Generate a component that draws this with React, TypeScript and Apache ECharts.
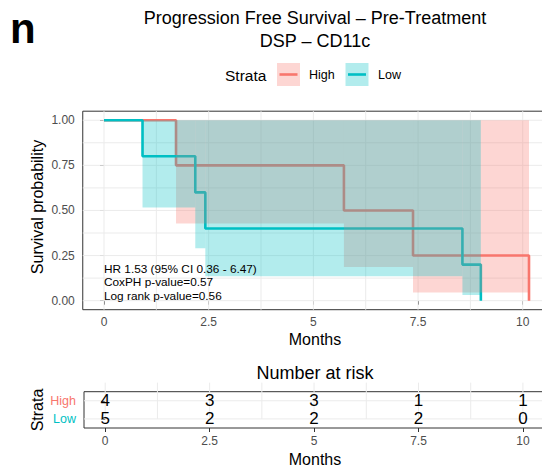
import React, { useEffect, useRef } from "react";
import * as echarts from "echarts";

const RED = "#F8766D";
const TEAL = "#00BFC4";
const FONT = "Liberation Sans, Arial, Helvetica, sans-serif";

const strata = ["High", "Low"];
// Kaplan-Meier step points
const highTimes = [0, 1.72, 5.73, 7.38, 10.15];
const highSurv = [1, 0.75, 0.5, 0.25, 0];
const lowTimes = [0, 0.92, 2.18, 2.42, 8.56, 9.0];
const lowSurv = [1, 0.8, 0.6, 0.4, 0.2, 0];
// Confidence interval steps
const highCiStart = [1.72, 5.73, 7.38];
const highCiEnd = [5.73, 7.38, 10.15];
const highCiLower = [0.428, 0.186, 0.045];
const highCiUpper = [1, 1, 1];
const lowCiStart = [0.92, 2.18, 2.42, 8.56];
const lowCiEnd = [2.18, 2.42, 8.56, 9.0];
const lowCiLower = [0.516, 0.29, 0.136, 0.032];
const lowCiUpper = [1, 1, 1, 1];

const xTicks = [0, 2.5, 5, 7.5, 10];
const xMinor = [1.25, 3.75, 6.25, 8.75];
const yTicks = [0, 0.25, 0.5, 0.75, 1];
const yMinor = [0.125, 0.375, 0.625, 0.875];

const riskTimes = [0, 2.5, 5, 7.5, 10];
const riskHigh = [4, 3, 3, 1, 1];
const riskLow = [5, 2, 2, 2, 0];

const annotation = ["HR 1.53 (95% CI 0.36 - 6.47)", "CoxPH p-value=0.57", "Log rank p-value=0.56"];

const XMIN = -0.5075;
const XMAX = 10.6575;
const YMIN = -0.05;
const YMAX = 1.05;

export default function App() {
  const ref = useRef<HTMLDivElement>(null);
  useEffect(() => {
    if (!ref.current) return;
    const chart = echarts.init(ref.current, undefined, { renderer: "svg" });

    const ribbon = (starts: number[], ends: number[], lo: number[], up: number[]) =>
      starts.map((s, i) => [s, ends[i], lo[i], up[i]]);

    const ribbonSeries = (name: string, data: number[][], color: string, z: number) => ({
      type: "custom",
      name,
      xAxisIndex: 0,
      yAxisIndex: 0,
      z,
      silent: true,
      data,
      encode: { x: [0, 1], y: [2, 3] },
      renderItem: (params: any, api: any) => {
        const p1 = api.coord([api.value(0), api.value(3)]);
        const p2 = api.coord([api.value(1), api.value(2)]);
        return {
          type: "rect",
          shape: { x: p1[0], y: p1[1], width: p2[0] - p1[0], height: p2[1] - p1[1] },
          style: { fill: color, opacity: 0.3 },
        };
      },
    });

    const gridLineSeries = (xi: number, yi: number, vx: number[], vy: number[], ymin: number, ymax: number, xmin: number, xmax: number) => ({
      type: "custom",
      xAxisIndex: xi,
      yAxisIndex: yi,
      z: 1,
      silent: true,
      data: [...vx.map((v) => [v, 0]), ...vy.map((v) => [v, 1])],
      renderItem: (params: any, api: any) => {
        const v = api.value(0);
        const o = api.value(1);
        let a, b;
        if (o === 0) {
          a = api.coord([v, ymin]);
          b = api.coord([v, ymax]);
        } else {
          a = api.coord([xmin, v]);
          b = api.coord([xmax, v]);
        }
        return {
          type: "line",
          shape: { x1: a[0], y1: a[1], x2: b[0], y2: b[1] },
          style: { stroke: "#EBEBEB", lineWidth: 1 },
        };
      },
    });

    const riskData: number[][] = [];
    riskTimes.forEach((t, i) => {
      riskData.push([t, 1, riskHigh[i]]);
      riskData.push([t, 0, riskLow[i]]);
    });

    const tickStyle = { show: true, length: 4, lineStyle: { color: "#333333", width: 1 } };

    chart.setOption({
      animation: false,
      backgroundColor: "#ffffff",
      textStyle: { fontFamily: FONT },
      grid: [
        { left: 82.75, top: 111.2, width: 467.5, height: 198.5, show: true, borderColor: "#333333", borderWidth: 1, backgroundColor: "#ffffff" },
        { left: 84, top: 391.7, width: 466.4, height: 36.3, show: true, borderColor: "#333333", borderWidth: 1, backgroundColor: "#ffffff" },
      ],
      xAxis: [
        {
          type: "value", gridIndex: 0, min: XMIN, max: XMAX,
          axisLine: { show: false }, splitLine: { show: false },
          axisTick: { ...tickStyle, customValues: xTicks },
          axisLabel: { customValues: xTicks, color: "#4D4D4D", fontSize: 12, margin: 6, fontFamily: FONT, formatter: (v: number) => String(v) },
        },
        {
          type: "value", gridIndex: 1, min: XMIN, max: XMAX,
          axisLine: { show: false }, splitLine: { show: false },
          axisTick: { ...tickStyle, customValues: riskTimes },
          axisLabel: { customValues: riskTimes, color: "#4D4D4D", fontSize: 12, margin: 7, fontFamily: FONT, formatter: (v: number) => String(v) },
        },
      ],
      yAxis: [
        {
          type: "value", gridIndex: 0, min: YMIN, max: YMAX,
          axisLine: { show: false }, splitLine: { show: false },
          axisTick: { ...tickStyle, customValues: yTicks },
          axisLabel: { customValues: yTicks, color: "#4D4D4D", fontSize: 12, margin: 8, fontFamily: FONT, formatter: (v: number) => v.toFixed(2) },
        },
        {
          type: "category", gridIndex: 1, data: ["Low", "High"],
          axisLine: { show: false }, splitLine: { show: false },
          axisTick: { ...tickStyle, alignWithLabel: true },
          axisLabel: {
            fontSize: 12.5, margin: 8, fontFamily: FONT,
            color: (v: string) => (v === "High" ? RED : TEAL),
          },
        },
      ],
      series: [
        gridLineSeries(0, 0, [...xTicks, ...xMinor], [...yTicks, ...yMinor], YMIN, YMAX, XMIN, XMAX),
        gridLineSeries(1, 1, [...riskTimes, ...xMinor], [], -0.5, 1.5, XMIN, XMAX),
        {
          type: "custom", xAxisIndex: 1, yAxisIndex: 1, z: 1, silent: true,
          data: [[XMIN, 0], [XMIN, 1]],
          renderItem: (params: any, api: any) => {
            const a = api.coord([XMIN, api.value(1)]);
            const b = api.coord([XMAX, api.value(1)]);
            return { type: "line", shape: { x1: a[0], y1: a[1], x2: b[0], y2: b[1] }, style: { stroke: "#EBEBEB", lineWidth: 1 } };
          },
        },
        {
          type: "line", name: strata[0], xAxisIndex: 0, yAxisIndex: 0, z: 2, step: "end",
          showSymbol: false, symbol: "none", silent: true,
          data: highTimes.map((t, i) => [t, highSurv[i]]),
          lineStyle: { color: RED, width: 2.6 }, itemStyle: { color: RED },
        },
        {
          type: "line", name: strata[1], xAxisIndex: 0, yAxisIndex: 0, z: 2, step: "end",
          showSymbol: false, symbol: "none", silent: true,
          data: lowTimes.map((t, i) => [t, lowSurv[i]]),
          lineStyle: { color: TEAL, width: 2.6 }, itemStyle: { color: TEAL },
        },
        ribbonSeries("HighCI", ribbon(highCiStart, highCiEnd, highCiLower, highCiUpper), RED, 3),
        ribbonSeries("LowCI", ribbon(lowCiStart, lowCiEnd, lowCiLower, lowCiUpper), TEAL, 3),
        {
          type: "custom", xAxisIndex: 1, yAxisIndex: 1, z: 4, silent: true,
          data: riskData,
          renderItem: (params: any, api: any) => {
            const p = api.coord([api.value(0), api.value(1)]);
            return {
              type: "text", x: p[0], y: p[1],
              style: { text: String(api.value(2)), fontSize: 17, fontFamily: FONT, fill: "#000", align: "center", verticalAlign: "middle" },
            };
          },
        },
      ],
      graphic: [
        { type: "text", left: 10, top: 7, style: { text: "n", fontSize: 42, fontWeight: "bold", fontFamily: FONT, fill: "#000" } },
        { type: "text", x: 315, y: 18, style: { text: "Progression Free Survival \u2013 Pre-Treatment", fontSize: 18, fontFamily: FONT, fill: "#000", align: "center", verticalAlign: "middle" } },
        { type: "text", x: 315, y: 41, style: { text: "DSP \u2013 CD11c", fontSize: 18, fontFamily: FONT, fill: "#000", align: "center", verticalAlign: "middle" } },
        // legend
        { type: "text", x: 225, y: 75, style: { text: "Strata", fontSize: 15.5, fontFamily: FONT, fill: "#000", align: "left", verticalAlign: "middle" } },
        { type: "rect", shape: { x: 277, y: 63, width: 23, height: 23 }, style: { fill: RED, opacity: 0.3 } },
        { type: "line", shape: { x1: 279.5, y1: 74.5, x2: 297.5, y2: 74.5 }, style: { stroke: RED, lineWidth: 2.6 } },
        { type: "text", x: 309, y: 75, style: { text: "High", fontSize: 12.5, fontFamily: FONT, fill: "#000", align: "left", verticalAlign: "middle" } },
        { type: "rect", shape: { x: 345.5, y: 63, width: 23, height: 23 }, style: { fill: TEAL, opacity: 0.3 } },
        { type: "line", shape: { x1: 348, y1: 74.5, x2: 366, y2: 74.5 }, style: { stroke: TEAL, lineWidth: 2.6 } },
        { type: "text", x: 378, y: 75, style: { text: "Low", fontSize: 12.5, fontFamily: FONT, fill: "#000", align: "left", verticalAlign: "middle" } },
        // axis titles
        { type: "text", x: 37, y: 207, rotation: Math.PI / 2, style: { text: "Survival probability", fontSize: 16, fontFamily: FONT, fill: "#000", align: "center", verticalAlign: "middle" } },
        { type: "text", x: 315, y: 339.5, style: { text: "Months", fontSize: 16, fontFamily: FONT, fill: "#000", align: "center", verticalAlign: "middle" } },
        { type: "text", x: 315, y: 373, style: { text: "Number at risk", fontSize: 18, fontFamily: FONT, fill: "#000", align: "center", verticalAlign: "middle" } },
        { type: "text", x: 37, y: 410, rotation: Math.PI / 2, style: { text: "Strata", fontSize: 16, fontFamily: FONT, fill: "#000", align: "center", verticalAlign: "middle" } },
        { type: "text", x: 315, y: 459, style: { text: "Months", fontSize: 16, fontFamily: FONT, fill: "#000", align: "center", verticalAlign: "middle" } },
        // annotation
        ...annotation.map((t, i) => ({
          type: "text", x: 104, y: 268.6 + i * 13.8, z: 10,
          style: { text: t, fontSize: 11.8, fontFamily: FONT, fill: "#000", align: "left", verticalAlign: "middle" },
        })),
      ],
    });
    return () => chart.dispose();
  }, []);
  return (
    <div style={{ position: "fixed", left: 0, top: 0, width: 542, height: 472, overflow: "hidden", background: "#fff" }}>
      <div ref={ref} style={{ width: 560, height: 472 }} />
    </div>
  );
}
